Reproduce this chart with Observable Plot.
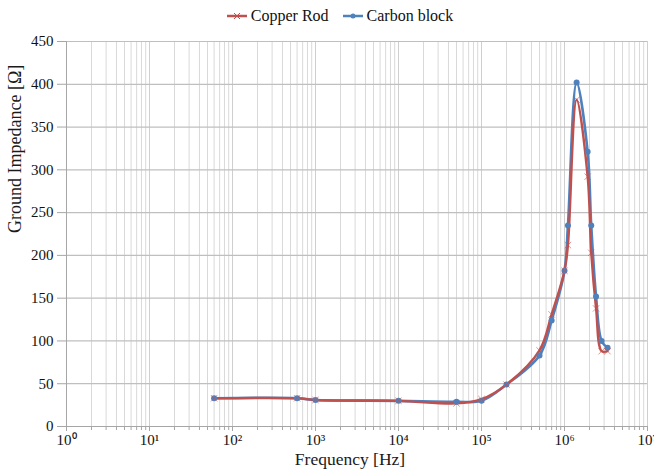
<!DOCTYPE html>
<html><head><meta charset="utf-8">
<script src="https://cdn.jsdelivr.net/npm/d3@7"></script>
<script src="https://cdn.jsdelivr.net/npm/@observablehq/plot@0.6"></script>
<style>
body{margin:0;background:#fff;font-family:'Liberation Serif',serif;}
#legend{height:32px;display:flex;justify-content:center;align-items:center;font-size:16px;color:#111;padding-left:26px;box-sizing:border-box;font-family:'Liberation Serif',serif;}
#legend .item{display:flex;align-items:center;margin:0 7px;}
#legend svg{margin-right:4px;}
#chart svg, #chart svg text{font-family:'Liberation Serif',serif !important;}
</style></head><body>
<div id="legend"></div>
<div id="chart"></div>
<script>
const frequency   = [60, 600, 1000, 1e4, 5e4, 1e5, 2e5, 5e5, 7e5, 1e6, 1.1e6, 1.4e6, 1.9e6, 2.1e6, 2.4e6, 2.8e6, 3.3e6];
const carbonBlock = [33, 33, 31, 30, 29, 30, 49, 83, 124, 182, 235, 402, 321, 235, 152, 100, 92];
const copperRod   = [33, 33, 31, 30, 27, 32, 49, 89, 131, 182, 212, 382, 292, 203, 138, 88, 88];
const seriesNames  = ["Copper Rod", "Carbon block"];
const seriesColors = ["#c0504d", "#4f81bd"];
const yTicks = [0, 50, 100, 150, 200, 250, 300, 350, 400, 450];
const xDecades = [1, 10, 100, 1e3, 1e4, 1e5, 1e6, 1e7];
const xLabel = "Frequency [Hz]";
const yLabel = "Ground Impedance [Ω]";

const FONT = "'Liberation Serif', serif";

const minorTicks = [];
for (let i = 0; i < xDecades.length - 1; i++) for (let m = 2; m <= 9; m++) minorTicks.push(xDecades[i] * m);

const sup = {"0":"⁰","1":"¹","2":"²","3":"³","4":"⁴","5":"⁵","6":"⁶","7":"⁷","8":"⁸","9":"⁹"};
const fmt = d => "10" + String(Math.round(Math.log10(d))).split("").map(c => sup[c]).join("");

const copper = frequency.map((f, i) => ({f, v: copperRod[i], s: seriesNames[0]}));
const carbon = frequency.map((f, i) => ({f, v: carbonBlock[i], s: seriesNames[1]}));

// legend
const lg = document.getElementById("legend");
seriesNames.forEach((name, i) => {
  const it = document.createElement("div"); it.className = "item";
  const marker = i === 0
    ? `<path d="M7,3 L13,9 M13,3 L7,9" stroke="${seriesColors[0]}" stroke-width="1"/>`
    : `<circle cx="10" cy="6" r="2.5" fill="${seriesColors[1]}"/>`;
  it.innerHTML = `<svg width="20" height="12"><line x1="0" y1="6" x2="20" y2="6" stroke="${seriesColors[i]}" stroke-width="2.5"/>${marker}</svg><span>${name}</span>`;
  lg.appendChild(it);
});

const chart = Plot.plot({
  width: 654, height: 441,
  marginTop: 9, marginBottom: 47, marginLeft: 66, marginRight: 7,
  style: {fontFamily: FONT, fontSize: "15px", color: "#111", background: "#fff"},
  x: {type: "log", domain: [1, 1e7], label: null},
  y: {domain: [0, 450], label: null},
  marks: [
    Plot.ruleX(minorTicks, {stroke: "#d9d9d9", strokeWidth: 1}),
    Plot.ruleX(xDecades.slice(1), {stroke: "#cfcfcf", strokeWidth: 1}),
    Plot.ruleY(yTicks.slice(1), {stroke: "#bfbfbf", strokeWidth: 1.2}),
    Plot.ruleX([1], {stroke: "#a6a6a6"}),
    Plot.ruleY([0], {stroke: "#a6a6a6"}),
    Plot.axisY({ticks: yTicks, tickSize: 9, tickPadding: 4, stroke: "#a6a6a6", label: null, tickFormat: d => String(d), fontFamily: FONT}),
    Plot.axisX({ticks: minorTicks, tickSize: 4, stroke: "#a6a6a6", tickFormat: () => "", label: null}),
    Plot.axisX({ticks: xDecades, tickSize: 5, tickPadding: 3, stroke: "#a6a6a6", tickFormat: fmt, label: null, fontSize: 15, fontFamily: FONT}),
    Plot.line(carbon, {x: "f", y: "v", stroke: seriesColors[1], strokeWidth: 2.6, curve: "catmull-rom"}),
    Plot.line(copper, {x: "f", y: "v", stroke: seriesColors[0], strokeWidth: 2.4, curve: "catmull-rom"}),
    Plot.dot(carbon, {x: "f", y: "v", r: 3, fill: seriesColors[1]}),
    Plot.dot(copper, {x: "f", y: "v", r: 3, symbol: "times", stroke: seriesColors[0], strokeWidth: 1, strokeOpacity: 0.6}),
    Plot.text([yLabel], {frameAnchor: "left", dx: -51, dy: -1, rotate: -90, fontSize: 18, fill: "#1a1a1a", fontFamily: FONT}),
    Plot.text([xLabel], {frameAnchor: "bottom", dx: -7, dy: 38.5, fontSize: 17.5, fill: "#1a1a1a", fontFamily: FONT})
  ]
});
document.getElementById("chart").appendChild(chart);
</script>
</body></html>
